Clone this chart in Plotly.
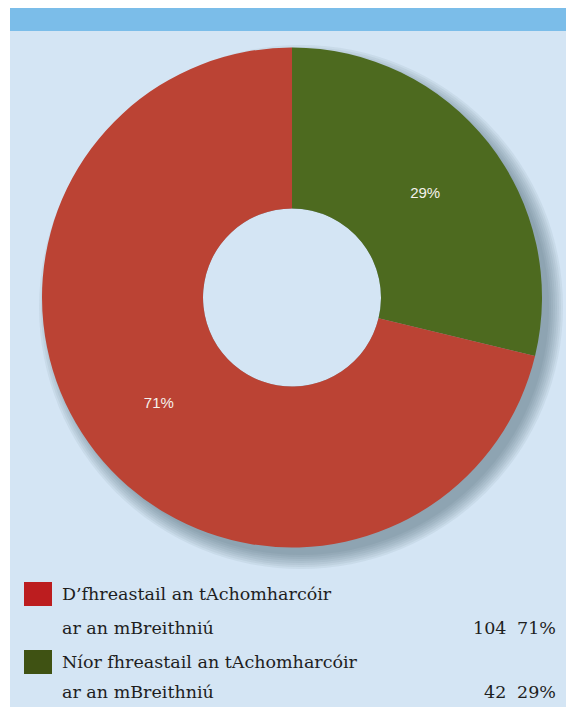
import plotly.graph_objects as go

# ---- data ----
categories = ["D\u2019fhreastail an tAchomharcóir", "Níor fhreastail an tAchomharcóir"]
category_line2 = ["ar an mBreithniú", "ar an mBreithniú"]
counts = [104, 42]
percent_labels = ["71%", "29%"]
slice_colors = ["#BB4334", "#4D6A1F"]
legend_colors = ["#BC1D1F", "#3F5213"]

OFF = 8  # page body margin
W, H = 574 - OFF, 707 - OFF
PANEL = "#D4E5F4"

def px_x(x):
    return (x - OFF) / W

def px_y(y):
    return 1 - (y - OFF) / H

fig = go.Figure()

# pie drawn with the second category first so it starts at 12 o'clock going clockwise
fig.add_trace(go.Pie(
    labels=categories[::-1],
    values=counts[::-1],
    text=percent_labels[::-1],
    textinfo="text",
    textposition="inside",
    insidetextorientation="horizontal",
    textfont=dict(family="Liberation Sans, Arial, sans-serif", size=15, color="#F4F1EC"),
    marker=dict(colors=slice_colors[::-1], line=dict(width=0)),
    hole=0.356,
    sort=False,
    direction="clockwise",
    rotation=0,
    showlegend=False,
    domain=dict(x=[px_x(42), px_x(542)], y=[px_y(548), px_y(47)]),
))

shapes = [
    # panel background
    dict(type="rect", xref="paper", yref="paper", x0=px_x(10), x1=1, y0=0, y1=px_y(7),
         fillcolor=PANEL, line=dict(width=0), layer="below"),
    # top band
    dict(type="rect", xref="paper", yref="paper", x0=px_x(10), x1=1, y0=px_y(31), y1=px_y(7),
         fillcolor="#7BBDE9", line=dict(width=0), layer="below"),
]

# soft drop shadow behind the pie (offset to lower right)
cx, cy = 301, 307
for r in range(262, 246, -2):
    shapes.append(dict(type="circle", xref="paper", yref="paper",
                       x0=px_x(cx - r), x1=px_x(cx + r), y0=px_y(cy + r), y1=px_y(cy - r),
                       fillcolor="rgba(70,90,110,0.075)", line=dict(width=0), layer="below"))
# keep the doughnut hole the panel colour
hr = 89
pcx, pcy = 292, 297.5
shapes.append(dict(type="circle", xref="paper", yref="paper",
                   x0=px_x(pcx - hr), x1=px_x(pcx + hr), y0=px_y(pcy + hr), y1=px_y(pcy - hr),
                   fillcolor=PANEL, line=dict(width=0), layer="below"))

annotations = []
legend_font = dict(family="DejaVu Serif, serif", size=17.5, color="#1E1E1E")
row_tops = [582, 650]
for i, cat in enumerate(categories):
    top = row_tops[i]
    shapes.append(dict(type="rect", xref="paper", yref="paper",
                       x0=px_x(24), x1=px_x(52), y0=px_y(top + 24), y1=px_y(top),
                       fillcolor=legend_colors[i], line=dict(width=0)))
    y1 = top + 12
    y2 = top + 46 if i == 0 else top + 42
    annotations.append(dict(x=px_x(60), y=px_y(y1), xref="paper", yref="paper", text=cat,
                            showarrow=False, xanchor="left", yanchor="middle", font=legend_font))
    annotations.append(dict(x=px_x(60), y=px_y(y2), xref="paper", yref="paper", text=category_line2[i],
                            showarrow=False, xanchor="left", yanchor="middle", font=legend_font))
    annotations.append(dict(x=px_x(508), y=px_y(y2), xref="paper", yref="paper", text=str(counts[i]),
                            showarrow=False, xanchor="right", yanchor="middle", font=legend_font))
    annotations.append(dict(x=px_x(558), y=px_y(y2), xref="paper", yref="paper", text=percent_labels[i],
                            showarrow=False, xanchor="right", yanchor="middle", font=legend_font))

fig.update_layout(
    width=W, height=H,
    margin=dict(l=0, r=0, t=0, b=0),
    paper_bgcolor="white",
    shapes=shapes,
    annotations=annotations,
)

fig.write_html("out.html")
